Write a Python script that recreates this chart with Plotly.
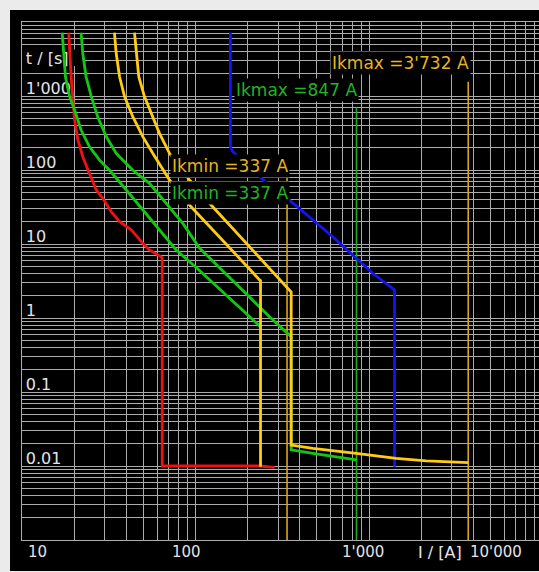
import math
import plotly.graph_objects as go

# ---------------- tripping characteristics: current I [A] / time t [s] ----------------
red_i = [18.6, 18.8, 19.2, 19.6, 20.1, 21.0, 22.4, 24.0, 25.6, 26.8, 29.2, 32.7, 36.5,
         42.6, 49.7, 54.3, 63.4, 64.3, 64.3, 234, 285]
red_t = [7200, 3800, 1820, 980, 475, 254, 151, 100, 69.5, 53.7, 41.5, 27.3, 20.0,
         15.5, 10.2, 8.3, 6.7, 6.5, 0.01, 0.01, 0.0096]

green_a_i = [17.05, 17.35, 17.8, 18.8, 20.1, 21.9, 24.5, 28.0, 31.9, 39.9, 49.7, 62.0,
             77.4, 105.5, 137.5, 179.3, 237]
green_a_t = [7200, 3780, 1820, 980, 647, 347, 206, 136, 100, 53.7, 28.8, 15.5,
             8.3, 4.38, 2.46, 1.37, 0.76]

green_b_i = [21.9, 22.4, 23.4, 25.1, 27.3, 30.6, 34.9, 43.4, 54.3, 67.8, 84.5, 105.5,
             137.5, 179.3, 234, 267, 356, 356, 474.5, 647, 847]
green_b_t = [7200, 3780, 1820, 980, 525, 282, 168, 100, 66.1, 35.5, 19.0, 8.83,
             4.78, 2.62, 1.41, 1.04, 0.559, 0.0165, 0.0148, 0.0134, 0.0121]

yellow_a_i = [34.1, 34.9, 36.5, 39.0, 43.5, 49.7, 56.7, 64.8, 70.8, 90.3, 120.4, 157,
              204.8, 234, 237, 237]
yellow_a_t = [7200, 3780, 1820, 980, 525, 282, 168, 100, 73.3, 35.5, 17.5, 8.83,
              4.59, 3.26, 3.2, 0.0098]

yellow_b_i = [44.5, 45.5, 47.1, 50.8, 56.7, 62.0, 70.8, 92.3, 120.4, 239, 348, 356,
              356, 474.5, 844, 1435, 2137, 3732]
yellow_b_t = [7200, 3780, 1820, 980, 525, 313, 168, 73.3, 35.5, 6.08, 2.39, 2.25,
              0.0192, 0.0173, 0.0148, 0.0127, 0.0117, 0.0111]

blue_i = [159, 159, 163.4, 171.6, 179.3, 239, 356, 474.5, 618, 844, 1051, 1403, 1403]
blue_t = [7200, 206, 180, 159.5, 150, 77.2, 37.3, 21.1, 12.55, 6.41, 4.02, 2.39, 0.0098]

# ---------------- short-circuit currents ----------------
ik_names = ["Ikmax", "Ikmax", "Ikmin", "Ikmin"]
ik_currents = [3732, 847, 337, 337]
ik_line_top = [1560, 700, 100, None]     # upper end of the marker line [s]

# ---------------- axis labels ----------------
x_tick_vals = [10, 100, 1000, 10000]
x_tick_text = ["10", "100", "1'000", "10'000"]
y_tick_vals = [1000, 100, 10, 1, 0.1, 0.01]
y_tick_text = ["1'000", "100", "10", "1", "0.1", "0.01"]
x_title = "I / [A]"
y_title = "t / [s]"


def fmt(v):
    return f"{v:,}".replace(",", "'")


# ---------------- styling ----------------
W, H = 539, 572
ML, MR, MT, MB = 22, 0, 22, 32
PW, PH = W - ML - MR, H - MT - MB
DECADE_PX = 173.5
Y_DECADE_PX = PH / 7
X_RANGE = [1, 1 + PW / DECADE_PX]
Y_RANGE = [-3, 4]

GRID = "#ababab"
TXT = "#e4e4e4"
FONT = "DejaVu Sans"
RED, GREEN, YELLOW, BLUE = "#f01212", "#12c812", "#ffcc14", "#1414f0"
IK_YELLOW, IK_GREEN = "#d9a61c", "#22a822"
LBL_YELLOW, LBL_GREEN = "#e6b422", "#22b422"

fig = go.Figure()

# marker lines for the short-circuit currents (drawn first, under the curves)
ik_line_colors = [IK_YELLOW, IK_GREEN, IK_YELLOW, None]
for cur, top, col in zip(ik_currents, ik_line_top, ik_line_colors):
    if top is None:
        continue
    fig.add_trace(go.Scatter(x=[cur, cur], y=[top, 10 ** Y_RANGE[0]], mode="lines",
                             line=dict(color=col, width=1.6), hoverinfo="skip"))

curves = [
    (red_i, red_t, RED),
    (green_a_i, green_a_t, GREEN),
    (green_b_i, green_b_t, GREEN),
    (blue_i, blue_t, BLUE),
    (yellow_a_i, yellow_a_t, YELLOW),
    (yellow_b_i, yellow_b_t, YELLOW),
]
for xi, yt, col in curves:
    fig.add_trace(go.Scatter(x=xi, y=yt, mode="lines",
                             line=dict(color=col, width=2.8), hoverinfo="skip"))


def px_to_x(v, dpx):
    """data value dpx pixels to the right of v on the log x axis"""
    return v * 10 ** (dpx / DECADE_PX)


def px_to_y(v, dpx):
    """data value dpx pixels above v on the log y axis"""
    return v * 10 ** (dpx / Y_DECADE_PX)


LABEL_SHIFT = -8          # moves the y tick labels above their grid line
y_title_val = 10 ** (Y_RANGE[1] - (66.5 - MT) / Y_DECADE_PX)

shapes = []
# black chart panel inside the light frame
shapes.append(dict(type="rect", xref="paper", yref="paper", layer="below",
                   x0=(10 - ML) / PW, x1=1.05,
                   y0=(H - MB - 571) / PH, y1=(H - MB - 10) / PH,
                   fillcolor="black", line=dict(width=0)))

# black boxes under the y tick labels (above the grid, beneath the curves)
box_w = {"1'000": 52, "100": 36, "10": 26, "1": 15, "0.1": 32, "0.01": 43, y_title: 62}
for val, txt in zip(y_tick_vals + [y_title_val], y_tick_text + [y_title]):
    shapes.append(dict(type="rect", layer="between", xref="x", yref="y",
                       x0=10, x1=px_to_x(10, box_w[txt]),
                       y0=px_to_y(val, 0.6), y1=px_to_y(val, 17),
                       fillcolor="black", line=dict(width=0)))

annotations = []
# short-circuit current labels
label_t = [2750, 1205, 113, 49]
label_cols = [LBL_YELLOW, LBL_GREEN, LBL_YELLOW, LBL_GREEN]
for name, cur, tt, col in zip(ik_names, ik_currents, label_t, label_cols):
    annotations.append(dict(xref="x", yref="y", x=math.log10(cur), y=math.log10(tt),
                            text=f"{name} ={fmt(cur)} A", showarrow=False,
                            xanchor="right", yanchor="middle", xshift=3,
                            bgcolor="black", borderpad=1,
                            font=dict(family=FONT, size=17, color=col)))

# x tick labels below the plot
x_anchor = ["left", "center", "center", "right"]
x_shift = [4, -9, -6, -15]
for val, txt, anc, sh in zip(x_tick_vals, x_tick_text, x_anchor, x_shift):
    px = min((math.log10(val) - X_RANGE[0]) / (X_RANGE[1] - X_RANGE[0]), 1.0)
    annotations.append(dict(xref="paper", yref="paper", x=px, y=0, text=txt,
                            showarrow=False, xanchor=anc, yanchor="top", xshift=sh,
                            yshift=-1, font=dict(family=FONT, size=15, color=TXT)))
annotations.append(dict(xref="paper", yref="paper", x=(416 - ML) / PW, y=0, text=x_title,
                        showarrow=False, xanchor="left", yanchor="top", yshift=-1,
                        font=dict(family=FONT, size=16, color=TXT)))

grid_y = [d * 10.0 ** e for e in range(Y_RANGE[0], Y_RANGE[1]) for d in range(1, 10)]
grid_y.append(10.0 ** Y_RANGE[1])

fig.update_layout(
    width=W, height=H, autosize=False,
    margin=dict(l=ML, r=MR, t=MT, b=MB, pad=0),
    paper_bgcolor="#ebebeb", plot_bgcolor="black",
    showlegend=False, hovermode=False,
    xaxis=dict(type="log", range=X_RANGE, dtick="D1", showgrid=True, gridcolor=GRID,
               gridwidth=1, showticklabels=False, ticks="", zeroline=False,
               showline=True, linecolor=GRID, linewidth=1, mirror=True),
    yaxis=dict(type="log", range=Y_RANGE, tickmode="array",
               tickvals=y_tick_vals + [y_title_val], ticktext=y_tick_text + [y_title],
               showgrid=False, ticks="", zeroline=False,
               ticklabelposition="inside", ticklabelshift=LABEL_SHIFT, ticklabelstandoff=4,
               tickfont=dict(family=FONT, size=16, color=TXT),
               layer="below traces",
               showline=True, linecolor=GRID, linewidth=1,
               minor=dict(tickmode="array", tickvals=grid_y, showgrid=True,
                          gridcolor=GRID, gridwidth=1, ticks="")),
    shapes=shapes, annotations=annotations,
)

fig.write_html("out.html")
